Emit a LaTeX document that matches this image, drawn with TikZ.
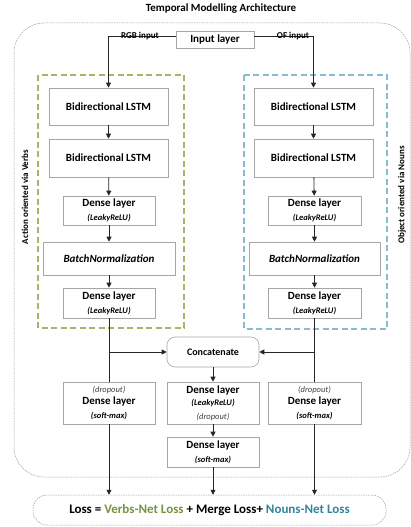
\documentclass[tikz,border=0pt]{standalone}
\usepackage{fontspec}
\setmainfont{Carlito}
\usetikzlibrary{arrows.meta}
\definecolor{boxgray}{HTML}{A6A6A6}
\definecolor{dotgray}{HTML}{9A9A9A}
\definecolor{vgreen}{HTML}{77933C}
\definecolor{gdash}{HTML}{A2B767}
\definecolor{nblue}{HTML}{31849B}
\definecolor{bdash}{HTML}{88BCCB}
\definecolor{linec}{HTML}{262626}
\tikzset{
  box/.style={draw=boxgray, line width=0.6pt, fill=white, inner sep=0pt, align=center,
    font=\bfseries\fontsize{11}{13}\selectfont},
  arr/.style={-{Triangle[length=5pt,width=5pt]}, line width=0.8pt, draw=linec},
  plain/.style={line width=0.8pt, draw=linec},
  sidelbl/.style={rotate=90, font=\bfseries\fontsize{9}{10}\selectfont},
  inlbl/.style={font=\bfseries\fontsize{9}{10}\selectfont, inner sep=1pt}
}
\newcommand{\sm}[1]{{\fontsize{8.5}{10}\selectfont\itshape #1}}
\newcommand{\drp}{{\fontsize{8.5}{10}\selectfont\mdseries\itshape\color{darkgray}(dropout)}}
\begin{document}
\begin{tikzpicture}[x=1pt,y=-1pt]
\useasboundingbox (0,0) rectangle (411,527);
% title
\node[font=\bfseries\fontsize{11}{13}\selectfont] (title) at (221,9) {Temporal Modelling Architecture};
% outer dotted frame
\draw[dotgray, line width=0.5pt, dash pattern=on 1.5pt off 1pt, rounded corners=30pt] (14,23) rectangle (410,477);
% dashed groups
\draw[gdash, line width=1.1pt, dash pattern=on 6pt off 3.5pt] (38,75) rectangle (184,328);
\draw[bdash, line width=1.1pt, dash pattern=on 6pt off 3.5pt] (244,75) rectangle (387,329);
% side labels
\node[sidelbl] (lblA) at (25,197) {Action oriented via Verbs};
\node[sidelbl] (lblB) at (402,195) {Object oriented via Nouns};
% input
\node[box, minimum width=78pt, minimum height=17pt] (inp) at (215,39.5) {Input layer};
% left column
\node[box, minimum width=119pt, minimum height=37pt] (lstmA1) at (108.5,106.5) {Bidirectional LSTM};
\node[box, minimum width=119pt, minimum height=38pt] (lstmA2) at (108.5,158) {Bidirectional LSTM};
\node[box, minimum width=92pt, minimum height=29pt] (denseA1) at (109,210.5) {Dense layer\\[1pt]\sm{(LeakyReLU)}};
\node[box, minimum width=132pt, minimum height=33pt] (bnA) at (109,258.5) {\itshape BatchNormalization};
\node[box, minimum width=92pt, minimum height=30pt] (denseA2) at (109,303) {Dense layer\\[1pt]\sm{(LeakyReLU)}};
% right column
\node[box, minimum width=119pt, minimum height=37pt] (lstmB1) at (313.5,106.5) {Bidirectional LSTM};
\node[box, minimum width=119pt, minimum height=38pt] (lstmB2) at (313.5,158) {Bidirectional LSTM};
\node[box, minimum width=93pt, minimum height=29pt] (denseB1) at (314.5,210.5) {Dense layer\\[1pt]\sm{(LeakyReLU)}};
\node[box, minimum width=131pt, minimum height=33pt] (bnB) at (314.5,258.5) {\itshape BatchNormalization};
\node[box, minimum width=93pt, minimum height=30pt] (denseB2) at (314.5,303) {Dense layer\\[1pt]\sm{(LeakyReLU)}};
% concatenate
\node[box, minimum width=92pt, minimum height=30pt, rounded corners=8pt, font=\bfseries\fontsize{10}{12}\selectfont] (cat) at (213,352) {Concatenate};
% output boxes
\node[box, minimum width=92pt, minimum height=42pt] (outL) at (109,403) {\drp\\[-1pt]Dense layer\\[1pt]\sm{(soft-max)}};
\node[box, minimum width=92pt, minimum height=42pt] (mid1) at (213,403) {Dense layer\\[-1pt]\sm{(LeakyReLU)}\\[1pt]\drp};
\node[box, minimum width=93pt, minimum height=42pt] (outR) at (314.5,403) {\drp\\[-1pt]Dense layer\\[1pt]\sm{(soft-max)}};
\node[box, minimum width=92pt, minimum height=30pt] (mid2) at (213,452) {Dense layer\\[1pt]\sm{(soft-max)}};
% loss
\node[draw=dotgray, line width=0.5pt, dash pattern=on 1.5pt off 1pt, rounded corners=14pt,
  minimum width=353pt, minimum height=30pt, font=\bfseries\fontsize{13}{15}\selectfont] (loss) at (209.5,510)
  {Loss = \textcolor{vgreen}{Verbs-Net Loss} + Merge Loss+ \textcolor{nblue}{Nouns-Net Loss}};
% input connectors
\draw[arr] ([yshift=3pt]inp.west) -| (lstmA1.north);
\draw[arr] ([yshift=3pt]inp.east) -| (lstmB1.north);
\node[inlbl, anchor=south] (rgb) at (140,41) {RGB input};
\node[inlbl, anchor=south] (of) at (293,41) {OF input};
% left chain
\draw[arr] (lstmA1) -- (lstmA2);
\draw[arr] (lstmA2) -- (denseA1);
\draw[arr] (denseA1) -- (bnA);
\draw[arr] (bnA) -- (denseA2);
% right chain
\draw[arr] (lstmB1) -- (lstmB2);
\draw[arr] (lstmB2) -- (denseB1);
\draw[arr] (denseB1) -- (bnB);
\draw[arr] (bnB) -- (denseB2);
% to outputs and concat
\draw[plain] (denseA2.south) -- (outL.north);
\draw[plain] (denseB2.south) -- (outR.north);
\draw[arr] (denseA2.south |- cat.west) -- (cat.west);
\draw[arr] (denseB2.south |- cat.east) -- (cat.east);
\draw[arr] (cat) -- (mid1);
\draw[arr] (mid1) -- (mid2);
% to loss
\draw[arr] (outL.south) -- (outL.south |- loss.north);
\draw[arr] (mid2.south) -- (mid2.south |- loss.north);
\draw[arr] (outR.south) -- (outR.south |- loss.north);
\end{tikzpicture}
\end{document}
